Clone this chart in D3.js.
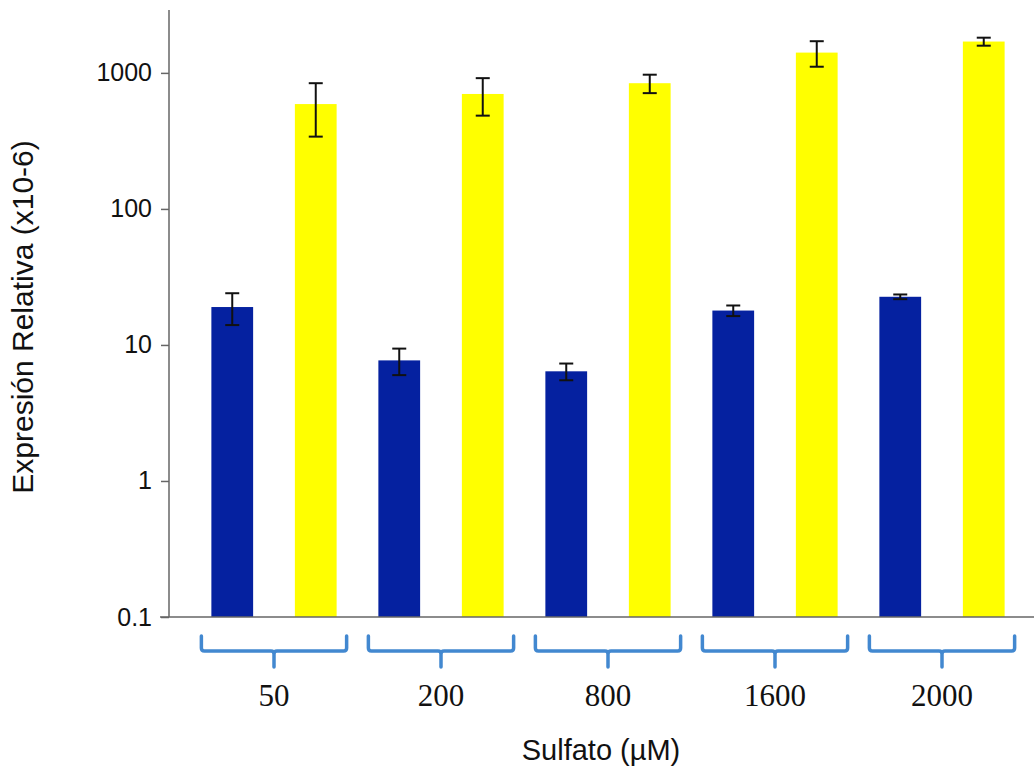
<!DOCTYPE html>
<html>
<head>
<meta charset="utf-8">
<script src="https://cdn.jsdelivr.net/npm/d3@7"></script>
<style>
  html, body { margin: 0; padding: 0; background: #fff; }
  svg { display: block; }
</style>
</head>
<body>
<svg id="chart" width="1034" height="767"></svg>
<script>
// Sulfate concentrations (µM) on the x axis
const categories = ["50", "200", "800", "1600", "2000"];
const seriesNames = ["gen1", "gen2"];

// Relative expression (x10-6), mean and error per concentration
const blueValues   = [19, 7.7, 6.4, 17.9, 22.6];
const blueErrors   = [5, 1.7, 0.9, 1.6, 0.9];
const yellowValues = [590, 700, 840, 1410, 1700];
const yellowErrors = [250, 215, 130, 300, 115];

const tickValues = [0.1, 1, 10, 100, 1000];
const tickLabels = ["0.1", "1", "10", "100", "1000"];

const colors = { gen1: "#0521a0", gen2: "#ffff00" };

const svg = d3.select("#chart");

const axisX = 169, baseY = 617, topY = 10;

const y = d3.scaleLog().domain([0.1, 2900]).range([baseY, topY]);

const x0 = d3.scaleBand().domain(categories).range([190.5, 1025.5]).padding(0);
const x1 = d3.scaleBand().domain(seriesNames).range([0, x0.bandwidth()])
  .paddingInner(0.5).paddingOuter(0.25);

const rows = categories.map((c, i) => ({
  cat: c,
  items: [
    { key: "gen1", v: blueValues[i], e: blueErrors[i] },
    { key: "gen2", v: yellowValues[i], e: yellowErrors[i] }
  ]
}));

// Bars
const g = svg.append("g");
const groups = g.selectAll("g.grp").data(rows).join("g")
  .attr("class", "grp")
  .attr("transform", d => `translate(${x0(d.cat)},0)`);

groups.selectAll("rect").data(d => d.items).join("rect")
  .attr("x", d => x1(d.key))
  .attr("width", x1.bandwidth())
  .attr("y", d => y(d.v))
  .attr("height", d => baseY - y(d.v))
  .attr("fill", d => colors[d.key]);

// Error bars
const capW = 14;
const err = groups.selectAll("g.err").data(d => d.items).join("g")
  .attr("class", "err")
  .attr("stroke", "#111")
  .attr("stroke-width", 2);
err.append("line")
  .attr("x1", d => x1(d.key) + x1.bandwidth() / 2)
  .attr("x2", d => x1(d.key) + x1.bandwidth() / 2)
  .attr("y1", d => y(d.v + d.e))
  .attr("y2", d => y(d.v - d.e));
err.append("line")
  .attr("x1", d => x1(d.key) + x1.bandwidth() / 2 - capW / 2)
  .attr("x2", d => x1(d.key) + x1.bandwidth() / 2 + capW / 2)
  .attr("y1", d => y(d.v + d.e))
  .attr("y2", d => y(d.v + d.e));
err.append("line")
  .attr("x1", d => x1(d.key) + x1.bandwidth() / 2 - capW / 2)
  .attr("x2", d => x1(d.key) + x1.bandwidth() / 2 + capW / 2)
  .attr("y1", d => y(d.v - d.e))
  .attr("y2", d => y(d.v - d.e));

// Y axis
const yAxis = d3.axisLeft(y)
  .tickValues(tickValues)
  .tickFormat((d, i) => tickLabels[i])
  .tickSize(8)
  .tickPadding(9);
const ya = svg.append("g")
  .attr("transform", `translate(${axisX},0)`)
  .call(yAxis);
ya.select(".domain").remove();
ya.selectAll(".tick line").attr("stroke", "#666").attr("stroke-width", 1.5);
ya.selectAll(".tick text")
  .attr("font-family", "Liberation Sans, Arial, sans-serif")
  .attr("font-size", 25)
  .attr("fill", "#111");

svg.append("line")
  .attr("x1", axisX).attr("x2", axisX)
  .attr("y1", topY).attr("y2", baseY)
  .attr("stroke", "#666").attr("stroke-width", 1.5);
svg.append("line")
  .attr("x1", axisX - 9).attr("x2", 1034)
  .attr("y1", baseY).attr("y2", baseY)
  .attr("stroke", "#666").attr("stroke-width", 1.5);

// Category braces and labels
const braceTop = 636, braceMid = 651, braceTip = 667;
const brace = svg.append("g").selectAll("g").data(categories).join("g");
brace.append("path")
  .attr("d", c => {
    const l = x0(c) + x1("gen1") - 10;
    const r = x0(c) + x1("gen2") + x1.bandwidth() + 10;
    const m = x0(c) + x0.bandwidth() / 2;
    return `M${l},${braceTop} L${l},${braceMid - 3} Q${l},${braceMid} ${l + 3},${braceMid}` +
      ` L${m - 3},${braceMid} Q${m},${braceMid} ${m},${braceMid + 3} L${m},${braceTip}` +
      ` M${m},${braceMid + 3} Q${m},${braceMid} ${m + 3},${braceMid} L${r - 3},${braceMid}` +
      ` Q${r},${braceMid} ${r},${braceMid - 3} L${r},${braceTop}`;
  })
  .attr("fill", "none")
  .attr("stroke", "#4288d0")
  .attr("stroke-width", 3.5)
  .attr("stroke-linecap", "round")
  .attr("stroke-linejoin", "round");
brace.append("text")
  .attr("x", c => x0(c) + x0.bandwidth() / 2)
  .attr("y", 706)
  .attr("text-anchor", "middle")
  .attr("font-family", "Liberation Serif, Times New Roman, serif")
  .attr("font-size", 31)
  .attr("fill", "#111")
  .text(c => c);

// Axis titles
svg.append("text")
  .attr("x", 601).attr("y", 760)
  .attr("text-anchor", "middle")
  .attr("font-family", "Liberation Sans, Arial, sans-serif")
  .attr("font-size", 29)
  .attr("fill", "#111")
  .text("Sulfato (µM)");
svg.append("text")
  .attr("transform", "translate(33,317) rotate(-90)")
  .attr("text-anchor", "middle")
  .attr("font-family", "Liberation Sans, Arial, sans-serif")
  .attr("font-size", 30)
  .attr("fill", "#111")
  .text("Expresión Relativa (x10-6)");
</script>
</body>
</html>
